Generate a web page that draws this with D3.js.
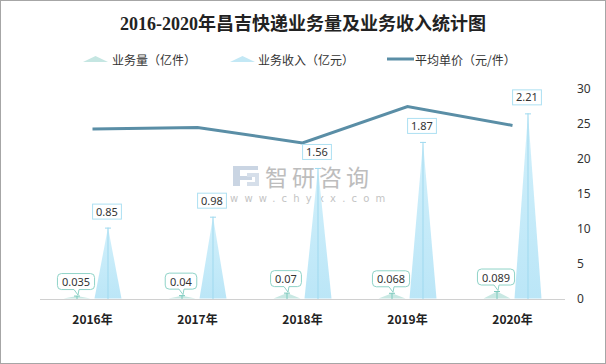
<!DOCTYPE html>
<html><head><meta charset="utf-8">
<script src="https://cdn.jsdelivr.net/npm/d3@7"></script>
<style>
html,body{margin:0;padding:0;background:#fff;}
svg{display:block;}
</style></head>
<body>
<script>
const years = ["2016年","2017年","2018年","2019年","2020年"];
const volume = [0.035, 0.04, 0.07, 0.068, 0.089];      // 业务量（亿件）
const revenue = [0.85, 0.98, 1.56, 1.87, 2.21];        // 业务收入（亿元）
const price = [24.3, 24.5, 22.3, 27.5, 24.8];          // 平均单价（元/件）
const rightTicks = [0, 5, 10, 15, 20, 25, 30];
const seriesNames = ["业务量（亿件）", "业务收入（亿元）", "平均单价（元/件）"];
const title = "2016-2020年昌吉快递业务量及业务收入统计图";

const W = 606, H = 364;
const CJK = '"Noto Sans CJK SC", "Noto Sans", sans-serif';
const NUM = '"Noto Sans", "Noto Sans CJK SC", sans-serif';
const svg = d3.select("body").append("svg").attr("width", W).attr("height", H)
  .style("font-family", CJK);

svg.append("rect").attr("x",0.5).attr("y",0.5).attr("width",W-1).attr("height",H-1)
  .attr("fill","#fff").attr("stroke","#a6a6a6").attr("stroke-width",1);

svg.append("text").attr("x",303).attr("y",30).attr("text-anchor","middle")
  .attr("font-size",18).attr("font-weight","bold").attr("fill","#222")
  .style("font-family",'"Liberation Serif", "Noto Sans CJK SC", serif').text(title);

const x = d3.scaleBand().domain(years).range([40,565]).padding(0);
const yL = d3.scaleLinear().domain([0,2.5]).range([299,89]);
const yR = d3.scaleLinear().domain([0,30]).range([299,89]);

const colVolFill = "#c8e8e3", colVolLine = "#7ccabd", colVolBorder = "#8fd3c8";
const colRevLine = "#9fd9ef", colRevBorder = "#ade0f2";
const colLine = "#5a8ea6";

const defs = svg.append("defs");
const g1 = defs.append("linearGradient").attr("id","gRev").attr("x1",0).attr("y1",0).attr("x2",0).attr("y2",1);
g1.append("stop").attr("offset","0%").attr("stop-color","#d2f0fb");
g1.append("stop").attr("offset","100%").attr("stop-color","#bbe6f7");

// watermark
const wm = svg.append("g").attr("opacity",0.75);
wm.append("path").attr("d","M233 166 H258 V170 H240 V176 H252 V180 H240 V186 H233 Z").attr("fill","#b9c8da");
wm.append("path").attr("d","M247 173 H259 V186 H247 V182 H255 V177 H247 Z").attr("fill","#c9d5e3");
wm.append("text").attr("x",265).attr("y",186).attr("font-size",23).attr("fill","#a8a8a8")
  .attr("letter-spacing",4).text("智研咨询");
wm.append("text").attr("x",230).attr("y",202).attr("font-size",10).attr("fill","#b0b0b0")
  .attr("letter-spacing",6.2).style("font-family",'"DejaVu Sans", sans-serif').text("www.chyxx.com");

// baseline
svg.append("line").attr("x1",40).attr("x2",565).attr("y1",299.5).attr("y2",299.5)
  .attr("stroke","#d0d0d0").attr("stroke-width",1);

// right axis
const rAxis = d3.axisRight(yR).tickValues(rightTicks).tickSize(0).tickPadding(12);
const ra = svg.append("g").attr("transform","translate(565,0)").call(rAxis);
ra.select(".domain").remove();
ra.attr("font-family",null);
ra.selectAll("text").attr("font-size",12).attr("fill","#333").style("font-family",NUM);

// bottom axis labels
const bAxis = d3.axisBottom(x).tickSize(0).tickPadding(16);
const ba = svg.append("g").attr("transform","translate(0,299)").call(bAxis);
ba.select(".domain").remove();
ba.attr("font-family",null);
ba.selectAll("text").attr("font-size",12).attr("font-weight","bold").attr("fill","#222").style("font-family",CJK);

const bw = 27, off = 15.5, base = 298.5;
function tri(c, top){ return `M${c-bw/2},${base} L${c},${top} L${c+bw/2},${base} Z`; }

// volume bars
years.forEach((yr,i)=>{
  const c = x(yr) + x.bandwidth()/2 - off;
  const top = yL(volume[i]);
  svg.append("path").attr("d",tri(c,top)).attr("fill",colVolFill);
  svg.append("line").attr("x1",c).attr("x2",c).attr("y1",top).attr("y2",299).attr("stroke",colVolLine).attr("stroke-width",1);
  svg.append("line").attr("x1",c-3).attr("x2",c+3).attr("y1",top).attr("y2",top).attr("stroke",colVolLine).attr("stroke-width",1);
});
// revenue bars
years.forEach((yr,i)=>{
  const c = x(yr) + x.bandwidth()/2 + off;
  const top = yL(revenue[i]);
  svg.append("path").attr("d",tri(c,top)).attr("fill","url(#gRev)");
  svg.append("line").attr("x1",c).attr("x2",c).attr("y1",top).attr("y2",299).attr("stroke",colRevLine).attr("stroke-width",1);
  svg.append("line").attr("x1",c-3).attr("x2",c+3).attr("y1",top+0.5).attr("y2",top+0.5).attr("stroke",colRevLine).attr("stroke-width",1);
});

// price line
const line = d3.line().x((d,i)=>x(years[i])+x.bandwidth()/2).y(d=>yR(d));
svg.append("path").datum(price).attr("d",line).attr("fill","none").attr("stroke",colLine).attr("stroke-width",3);

// revenue labels
years.forEach((yr,i)=>{
  const c = x(yr) + x.bandwidth()/2 + off - 1;
  const top = yL(revenue[i]);
  const g = svg.append("g");
  const t = g.append("text").attr("x",c).attr("y",top-12).attr("text-anchor","middle")
    .attr("font-size",11).attr("fill","#333").style("font-family",NUM).text(revenue[i]);
  const bb = t.node().getBBox();
  g.insert("rect","text").attr("x",c-bb.width/2-3.5).attr("y",top-23.5).attr("width",bb.width+7).attr("height",15)
    .attr("fill","#fff").attr("stroke",colRevBorder).attr("stroke-width",1);
});
// volume labels
years.forEach((yr,i)=>{
  const c = x(yr) + x.bandwidth()/2 - off - 1;
  const top = yL(volume[i]);
  const g = svg.append("g");
  const t = g.append("text").attr("x",c).attr("y",top-10).attr("text-anchor","middle")
    .attr("font-size",11).attr("fill","#333").style("font-family",NUM).text(volume[i]);
  const bb = t.node().getBBox();
  const w = bb.width + 9, h = 16, x0 = c - w/2, y1 = top - 6.5, y0 = y1 - h, r = 4;
  const p = `M${x0+r},${y0} H${x0+w-r} Q${x0+w},${y0} ${x0+w},${y0+r} V${y1-r} Q${x0+w},${y1} ${x0+w-r},${y1}
    H${c+3} L${c+2},${top-1} L${c-2},${y1} H${x0+r} Q${x0},${y1} ${x0},${y1-r} V${y0+r} Q${x0},${y0} ${x0+r},${y0} Z`;
  g.insert("path","text").attr("d",p).attr("fill","#fff").attr("stroke",colVolBorder).attr("stroke-width",1);
});

// legend
const lg = svg.append("g");
lg.append("path").attr("d","M83,62 L95.5,56 L108,62 Z").attr("fill","#c5e6e2");
lg.append("text").attr("x",112).attr("y",64.5).attr("font-size",12).attr("fill","#333").text(seriesNames[0]);
lg.append("path").attr("d","M230,62 L242.5,56 L255,62 Z").attr("fill","#c3e8f5");
lg.append("text").attr("x",258).attr("y",64.5).attr("font-size",12).attr("fill","#333").text(seriesNames[1]);
lg.append("line").attr("x1",387).attr("x2",414).attr("y1",59).attr("y2",59).attr("stroke",colLine).attr("stroke-width",3);
lg.append("text").attr("x",415).attr("y",64.5).attr("font-size",12).attr("fill","#333").text(seriesNames[2]);
</script>
</body></html>
